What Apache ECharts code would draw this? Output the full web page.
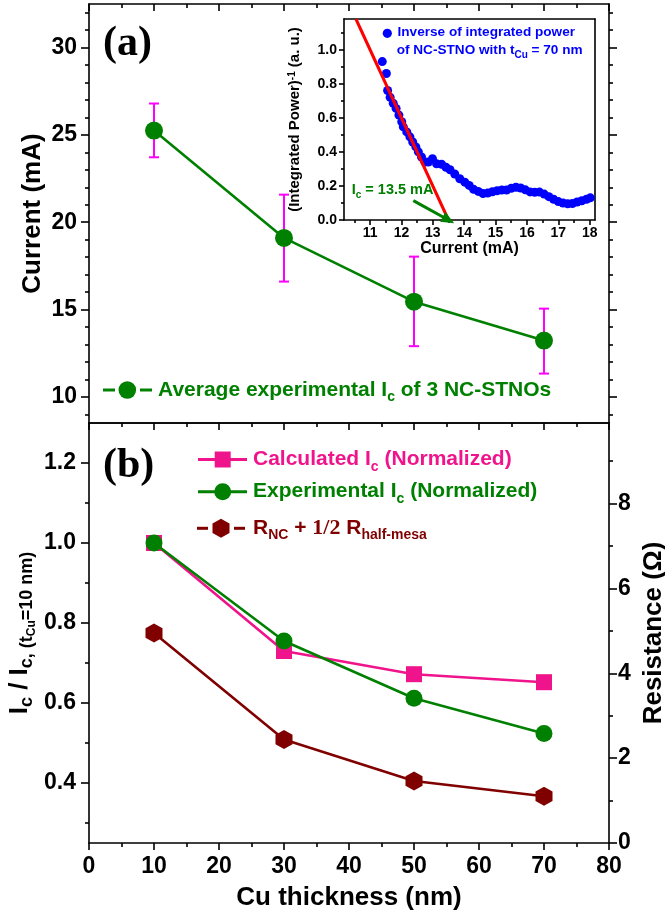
<!DOCTYPE html>
<html><head><meta charset="utf-8">
<script src="https://cdn.jsdelivr.net/npm/echarts@6/dist/echarts.min.js"></script>
<style>html,body{margin:0;padding:0;background:#fff}#c{width:665px;height:913px}</style>
</head><body><div id="c"></div>
<script>
// ---------- data ----------
const thickness = [10, 30, 50, 70];
const avgIc = [25.25, 19.1, 15.45, 13.22];
const avgIcLow = [23.72, 16.6, 12.9, 11.33];
const avgIcHigh = [26.8, 21.58, 18.03, 15.05];
const calcIcNorm = [1.0, 0.73, 0.672, 0.652];
const expIcNorm = [1.0, 0.755, 0.612, 0.524];
const resistance = [4.95, 2.44, 1.46, 1.10];

const insetCurrent = [11.39, 11.52, 11.56, 11.64, 11.74, 11.83, 11.92, 12.01, 12.06, 12.17, 12.27, 12.36, 12.46, 12.54, 12.64, 12.75, 12.86, 12.99, 13.12, 13.28, 13.42, 13.55, 13.70, 13.86, 14.02, 14.16, 14.30, 14.45, 14.60, 14.75, 14.90, 15.05, 15.20, 15.35, 15.50, 15.65, 15.80, 15.95, 16.10, 16.25, 16.40, 16.55, 16.70, 16.85, 17.00, 17.15, 17.30, 17.45, 17.60, 17.75, 17.90, 18.02];
const insetInvPower = [0.93, 0.86, 0.76, 0.72, 0.685, 0.655, 0.616, 0.577, 0.547, 0.517, 0.488, 0.458, 0.429, 0.40, 0.37, 0.34, 0.34, 0.36, 0.33, 0.327, 0.31, 0.295, 0.27, 0.242, 0.222, 0.203, 0.18, 0.168, 0.155, 0.158, 0.166, 0.172, 0.176, 0.176, 0.186, 0.192, 0.188, 0.177, 0.165, 0.163, 0.164, 0.152, 0.137, 0.122, 0.108, 0.10, 0.095, 0.097, 0.106, 0.113, 0.122, 0.13];
const fitCurrent = [10.55, 13.5];
const fitInvPower = [1.18, 0];
const arrowFrom = [12.38, 0.114];
const arrowTo = [13.5, 0];

// ---------- ticks ----------
const topYMajor = [10, 15, 20, 25, 30];
const topYMinor = [9, 11, 12, 13, 14, 16, 17, 18, 19, 21, 22, 23, 24, 26, 27, 28, 29, 31, 32];
const botLeftMajor = [0.4, 0.6, 0.8, 1.0, 1.2];
const botLeftMinor = [0.3, 0.5, 0.7, 0.9, 1.1];
const botRightMajor = [0, 2, 4, 6, 8];
const botRightMinor = [1, 3, 5, 7, 9];
const insetXMajor = [11, 12, 13, 14, 15, 16, 17, 18];
const insetXMinor = [10.5, 11.5, 12.5, 13.5, 14.5, 15.5, 16.5, 17.5];
const insetYMajor = [0, 0.2, 0.4, 0.6, 0.8, 1.0];
const insetYMinor = [0.1, 0.3, 0.5, 0.7, 0.9, 1.1];
const xMain = [0, 10, 20, 30, 40, 50, 60, 70, 80];
const xMinor = [5, 15, 25, 35, 45, 55, 65, 75];

// ---------- styles ----------
const FF = '"Liberation Sans", Arial, Helvetica, sans-serif';
const SERIF = '"Liberation Serif", "Times New Roman", serif';
const GREEN = '#008000', PINK = '#f0148c', DRED = '#800000', MAG = '#ff00ff', BLUE = '#0000ff', RED = '#ff0000';
const LS = {color: '#000', width: 1.6};
const HEX = 'path://M0,-10L8.66,-5L8.66,5L0,10L-8.66,5L-8.66,-5Z';

function lbl(size, margin, fmt) {
  return {show: true, fontSize: size, fontWeight: 'bold', fontFamily: FF, color: '#000', margin: margin, formatter: fmt};
}
function ax(grid, pos, min, max, ticks, len, extra) {
  return Object.assign({
    type: 'value', gridIndex: grid, position: pos, min: min, max: max,
    axisLine: {show: false, onZero: false, lineStyle: LS},
    axisTick: {show: ticks.length > 0, inside: false, length: len, customValues: ticks, lineStyle: LS},
    axisLabel: {show: false},
    splitLine: {show: false},
    nameMoveOverlap: false
  }, extra || {});
}
const LINE = {show: true, onZero: false, lineStyle: LS};

const xAxes = [
  ax(0, 'bottom', 0, 80, xMain, 7, {axisLine: LINE}),
  ax(0, 'bottom', 0, 80, xMinor, 4),
  ax(0, 'top', 0, 80, xMain, 7, {axisLine: LINE, axisTick: {show: true, inside: true, length: 7, customValues: xMain, lineStyle: LS}}),
  ax(0, 'top', 0, 80, xMinor, 4, {axisTick: {show: true, inside: true, length: 4, customValues: xMinor, lineStyle: LS}}),
  ax(1, 'bottom', 0, 80, xMain, 7, {
    axisLine: LINE,
    axisLabel: Object.assign(lbl(23, 12), {customValues: xMain}),
    name: 'Cu thickness (nm)', nameLocation: 'middle', nameGap: 42,
    nameTextStyle: {fontSize: 26, fontWeight: 'bold', fontFamily: FF, color: '#000'}
  }),
  ax(1, 'bottom', 0, 80, xMinor, 4),
  ax(1, 'top', 0, 80, [], 0, {axisLine: LINE}),
  ax(2, 'bottom', 10.17, 18.17, insetXMajor, 5, {
    axisLine: LINE,
    axisLabel: Object.assign(lbl(14, 6), {customValues: insetXMajor}),
    name: 'Current (mA)', nameLocation: 'middle', nameGap: 21,
    nameTextStyle: {fontSize: 16, fontWeight: 'bold', fontFamily: FF, color: '#000'}
  }),
  ax(2, 'bottom', 10.17, 18.17, insetXMinor, 3),
  ax(2, 'top', 10.17, 18.17, [], 0, {axisLine: LINE})
];

const yAxes = [
  ax(0, 'left', 8.5, 32.5, topYMajor, 8, {
    axisLine: LINE,
    axisLabel: Object.assign(lbl(23, 12), {customValues: topYMajor}),
    name: 'Current (mA)', nameLocation: 'middle', nameGap: 43, nameRotate: 90,
    nameTextStyle: {fontSize: 26, fontWeight: 'bold', fontFamily: FF, color: '#000'}
  }),
  ax(0, 'left', 8.5, 32.5, topYMinor, 4),
  ax(0, 'right', 8.5, 32.5, topYMajor, 8, {axisLine: LINE}),
  ax(0, 'right', 8.5, 32.5, topYMinor, 4),
  ax(1, 'left', 0.25, 1.3, botLeftMajor, 8, {
    axisLine: LINE,
    axisLabel: Object.assign(lbl(23, 13, v => v.toFixed(1)), {customValues: botLeftMajor}),
    name: '{b|I}{s|c}{b| / I}{s|c, (t}{ss|Cu}{s|=10 nm)}', nameLocation: 'middle', nameGap: 51, nameRotate: 90,
    nameTextStyle: {fontSize: 26, fontWeight: 'bold', fontFamily: FF, color: '#000', rich: {
      b: {fontSize: 26, fontWeight: 'bold', fontFamily: FF, color: '#000', verticalAlign: 'top'},
      s: {fontSize: 18, fontWeight: 'bold', fontFamily: FF, color: '#000', verticalAlign: 'top', padding: [11, 0, 0, 0]},
      ss: {fontSize: 12, fontWeight: 'bold', fontFamily: FF, color: '#000', verticalAlign: 'top', padding: [19, 0, 0, 0]}
    }}
  }),
  ax(1, 'left', 0.25, 1.3, botLeftMinor, 4),
  ax(1, 'right', 0, 9.9, botRightMajor, 8, {
    axisLine: LINE,
    axisLabel: Object.assign(lbl(23, 9), {customValues: botRightMajor}),
    name: 'Resistance (Ω)', nameLocation: 'middle', nameGap: 32, nameRotate: 90,
    nameTextStyle: {fontSize: 26, fontWeight: 'bold', fontFamily: FF, color: '#000'}
  }),
  ax(1, 'right', 0, 9.9, botRightMinor, 4),
  ax(2, 'left', 0, 1.18, insetYMajor, 5, {
    axisLine: LINE,
    axisLabel: Object.assign(lbl(14, 7, v => v.toFixed(1)), {customValues: insetYMajor}),
    name: '{n|(Integrated Power)}{sup|-1}{n| (a. u.)}', nameLocation: 'middle', nameGap: 42, nameRotate: 90,
    nameTextStyle: {fontSize: 15, fontWeight: 'bold', fontFamily: FF, color: '#000', rich: {
      n: {fontSize: 15, fontWeight: 'bold', fontFamily: FF, color: '#000', verticalAlign: 'top'},
      sup: {fontSize: 10, fontWeight: 'bold', fontFamily: FF, color: '#000', verticalAlign: 'top'}
    }}
  }),
  ax(2, 'left', 0, 1.18, insetYMinor, 3),
  ax(2, 'right', 0, 1.18, [], 0, {axisLine: LINE})
];

const series = [
  {
    type: 'custom', xAxisIndex: 0, yAxisIndex: 0, z: 1,
    data: thickness.map((x, i) => [x, avgIcLow[i], avgIcHigh[i]]),
    encode: {x: 0, y: [1, 2]},
    renderItem: function (params, api) {
      const x = api.value(0);
      const lo = api.coord([x, api.value(1)]);
      const hi = api.coord([x, api.value(2)]);
      const w = 5, st = {stroke: MAG, lineWidth: 2};
      return {type: 'group', children: [
        {type: 'line', shape: {x1: lo[0], y1: lo[1], x2: hi[0], y2: hi[1]}, style: st},
        {type: 'line', shape: {x1: lo[0] - w, y1: lo[1], x2: lo[0] + w, y2: lo[1]}, style: st},
        {type: 'line', shape: {x1: hi[0] - w, y1: hi[1], x2: hi[0] + w, y2: hi[1]}, style: st}
      ]};
    }
  },
  {
    type: 'line', xAxisIndex: 0, yAxisIndex: 0, z: 3,
    data: thickness.map((x, i) => [x, avgIc[i]]),
    symbol: 'circle', symbolSize: 18,
    itemStyle: {color: GREEN}, lineStyle: {color: GREEN, width: 2.6}
  },
  {
    type: 'line', xAxisIndex: 4, yAxisIndex: 4, z: 3,
    data: thickness.map((x, i) => [x, calcIcNorm[i]]),
    symbol: 'rect', symbolSize: 16,
    itemStyle: {color: PINK}, lineStyle: {color: PINK, width: 2.6}
  },
  {
    type: 'line', xAxisIndex: 4, yAxisIndex: 4, z: 4,
    data: thickness.map((x, i) => [x, expIcNorm[i]]),
    symbol: 'circle', symbolSize: 17,
    itemStyle: {color: GREEN}, lineStyle: {color: GREEN, width: 2.6}
  },
  {
    type: 'line', xAxisIndex: 4, yAxisIndex: 6, z: 3,
    data: thickness.map((x, i) => [x, resistance[i]]),
    symbol: HEX, symbolSize: [17, 19],
    itemStyle: {color: DRED}, lineStyle: {color: DRED, width: 2.6}
  },
  {
    type: 'scatter', xAxisIndex: 7, yAxisIndex: 8, z: 3,
    data: insetCurrent.map((x, i) => [x, insetInvPower[i]]),
    symbol: 'circle', symbolSize: 9, itemStyle: {color: BLUE, opacity: 1}
  },
  {
    type: 'line', xAxisIndex: 7, yAxisIndex: 8, z: 4, clip: true,
    data: fitCurrent.map((x, i) => [x, fitInvPower[i]]),
    symbol: 'none', lineStyle: {color: RED, width: 3},
    markLine: {
      silent: true, animation: false, symbol: ['none', 'triangle'], symbolSize: [11, 13],
      label: {show: false},
      lineStyle: {color: GREEN, width: 3, type: 'solid'},
      data: [[{coord: arrowFrom}, {coord: arrowTo}]]
    }
  }
];

function rt(x, y, text, rich) {
  return {type: 'text', x: x, y: y, z: 100, style: {text: text, rich: rich, align: 'left', verticalAlign: 'top'}};
}
function richSet(color, n, s, pad) {
  return {
    n: {fontSize: n, fontWeight: 'bold', fontFamily: FF, fill: color, verticalAlign: 'top'},
    s: {fontSize: s, fontWeight: 'bold', fontFamily: FF, fill: color, verticalAlign: 'top', padding: [pad, 0, 0, 0]},
    f: {fontSize: n + 1, fontWeight: 'bold', fontFamily: SERIF, fill: color, verticalAlign: 'top'}
  };
}
const hexPts = (cx, cy, rx, ry) => [[cx, cy - ry], [cx + rx, cy - ry / 2], [cx + rx, cy + ry / 2], [cx, cy + ry], [cx - rx, cy + ry / 2], [cx - rx, cy - ry / 2]];

const graphics = [
  {type: 'text', x: 103, y: 44, z: 100, style: {text: '(a)', fontSize: 42, fontWeight: 'bold', fontFamily: SERIF, fill: '#000', verticalAlign: 'middle'}},
  {type: 'text', x: 103, y: 466, z: 100, style: {text: '(b)', fontSize: 42, fontWeight: 'bold', fontFamily: SERIF, fill: '#000', verticalAlign: 'middle'}},
  {type: 'line', z: 100, shape: {x1: 103, y1: 390, x2: 115, y2: 390}, style: {stroke: GREEN, lineWidth: 3}},
  {type: 'circle', z: 100, shape: {cx: 127.3, cy: 390, r: 8.8}, style: {fill: GREEN}},
  {type: 'line', z: 100, shape: {x1: 140, y1: 390, x2: 152, y2: 390}, style: {stroke: GREEN, lineWidth: 3}},
  rt(158, 379.5, '{n|Average experimental I}{s|c}{n| of 3 NC-STNOs}', richSet(GREEN, 21, 14, 11)),
  {type: 'line', z: 100, shape: {x1: 198, y1: 459.5, x2: 247, y2: 459.5}, style: {stroke: PINK, lineWidth: 3}},
  {type: 'rect', z: 100, shape: {x: 214.7, y: 451.5, width: 16, height: 16}, style: {fill: PINK}},
  rt(253, 449, '{n|Calculated I}{s|c}{n| (Normalized)}', richSet(PINK, 21, 14, 11)),
  {type: 'line', z: 100, shape: {x1: 198, y1: 491.7, x2: 247, y2: 491.7}, style: {stroke: GREEN, lineWidth: 3}},
  {type: 'circle', z: 100, shape: {cx: 222.7, cy: 491.7, r: 8.5}, style: {fill: GREEN}},
  rt(253, 481.2, '{n|Experimental I}{s|c}{n| (Normalized)}', richSet(GREEN, 21, 14, 11)),
  {type: 'line', z: 100, shape: {x1: 197, y1: 528.3, x2: 208, y2: 528.3}, style: {stroke: DRED, lineWidth: 3}},
  {type: 'polygon', z: 100, shape: {points: hexPts(221, 528.3, 8.5, 9.5)}, style: {fill: DRED}},
  {type: 'line', z: 100, shape: {x1: 234, y1: 528.3, x2: 245, y2: 528.3}, style: {stroke: DRED, lineWidth: 3}},
  rt(253, 517.3, '{n|R}{s|NC}{n| + }{f|1/2}{n| R}{s|half-mesa}', richSet(DRED, 21, 14, 11)),
  {type: 'circle', z: 100, shape: {cx: 387.3, cy: 33.3, r: 4.6}, style: {fill: BLUE}},
  rt(397.5, 25.5, '{n|Inverse of integrated power}', richSet(BLUE, 13.6, 10, 7)),
  rt(396.7, 43.2, '{n|of NC-STNO with t}{s|Cu}{n| = 70 nm}', richSet(BLUE, 13.6, 10, 7)),
  rt(351.7, 182.8, '{n|I}{s|c}{n| = 13.5 mA}', richSet(GREEN, 14.5, 10, 7.5))
];

const chart = echarts.init(document.getElementById('c'), null, {renderer: 'canvas', width: 665, height: 913});
chart.setOption({
  animation: false,
  backgroundColor: '#fff',
  grid: [
    {left: 89, top: 4, width: 520, height: 419, outerBoundsMode: 'none'},
    {left: 89, top: 423, width: 520, height: 420, outerBoundsMode: 'none'},
    {left: 344, top: 19, width: 251, height: 201, show: true, backgroundColor: '#fff', borderWidth: 0, outerBoundsMode: 'none'}
  ],
  xAxis: xAxes,
  yAxis: yAxes,
  series: series,
  graphic: graphics
});
</script>
</body></html>
